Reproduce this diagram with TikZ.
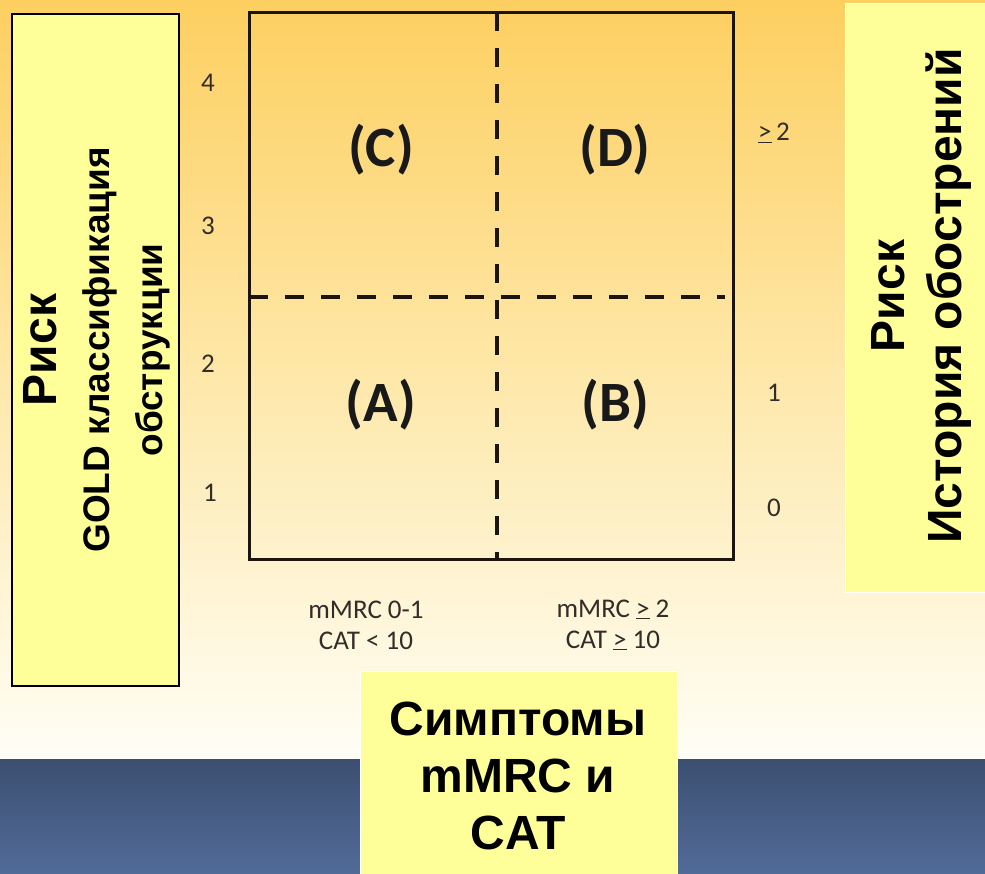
\documentclass[tikz,border=0pt]{standalone}
\usepackage{fontspec}
\setmainfont{Carlito}
\newfontfamily\arialf{Liberation Sans}
\definecolor{boxyellow}{RGB}{255,255,153}
\definecolor{bgtop}{RGB}{253,207,96}
\definecolor{bgmid}{RGB}{254,232,170}
\definecolor{bgbot}{RGB}{255,254,246}
\definecolor{bandtop}{RGB}{60,79,113}
\definecolor{bandbot}{RGB}{81,107,152}
\definecolor{framecol}{RGB}{28,20,14}
\definecolor{numcol}{RGB}{50,45,40}
\tikzset{
  yellowbox/.style={fill=boxyellow, inner sep=0pt},
  bigtext/.style={font=\arialf\bfseries\fontsize{48}{57}\selectfont, align=center, text=black},
  axisnum/.style={font=\fontsize{27}{31}\selectfont, text=numcol},
  quad/.style={font=\bfseries\fontsize{57}{60}\selectfont, text=black!90},
  divider/.style={line width=4.5pt, draw=framecol, dash pattern=on 19pt off 17pt},
}
\begin{document}
\begin{tikzpicture}[x=1pt, y=-1pt]
\useasboundingbox (0,0) rectangle (985,873);
% background
\shade[top color=bgtop, bottom color=bgbot, middle color=bgmid] (0,0) rectangle (985,759);
\shade[top color=bandtop, bottom color=bandbot] (0,759) rectangle (985,873);

% left box
\node[yellowbox, draw=black, line width=1.5pt, minimum width=167pt, minimum height=672pt] (lbox) at (95.5,350) {};
\node[align=center, rotate=90, text=black, font=\arialf\bfseries\fontsize{37}{53}\selectfont] (ltext) at (97,350)
  {{\fontsize{48}{53}\selectfont Риск}\\GOLD классификация\\обструкции};

% right box
\node[yellowbox, draw=white, line width=1pt, minimum width=142pt, minimum height=589pt] (rbox) at (916,297.5) {};
\node[bigtext, rotate=90] (rtext) at (921,296) {Риск\\История обострений};

% bottom box
\node[yellowbox, draw=white, line width=1pt, minimum width=317pt, minimum height=210pt] (bbox) at (518.5,776) {};
\node[bigtext] (btext) at (518,776) {Симптомы\\mMRC и\\CAT};

% grid frame
\coordinate (tl) at (249,12);
\coordinate (br) at (733,559);
\coordinate (vtop) at (497,12);
\coordinate (vbot) at (497,559);
\coordinate (hleft) at (249,297);
\coordinate (hright) at (725,297);
\draw[divider] (vtop) -- (vbot);
\draw[divider] (hleft) -- (hright);
\draw[line width=3pt, draw=framecol] (tl) rectangle (br);

% quadrant labels
\node[quad] (qc) at (381,150) {(C)};
\node[quad] (qd) at (615,150) {(D)};
\node[quad] (qa) at (381,405) {(A)};
\node[quad] (qb) at (615,405) {(B)};

% left axis numbers
\node[axisnum] (n4) at (208,83) {4};
\node[axisnum] (n3) at (208,226) {3};
\node[axisnum] (n2) at (208,364) {2};
\node[axisnum] (n1) at (210,493) {1};

% right axis numbers
\node[axisnum] (r2) at (774,133) {\underline{>}\,2};
\node[axisnum] (r1) at (774,393) {1};
\node[axisnum] (r0) at (774,508) {0};

% bottom labels
\node[axisnum, align=center] (s1) at (366,625) {mMRC 0-1\\CAT < 10};
\node[axisnum, align=center] (s2) at (613,625) {mMRC \underline{>} 2\\CAT \underline{>} 10};
\end{tikzpicture}
\end{document}
